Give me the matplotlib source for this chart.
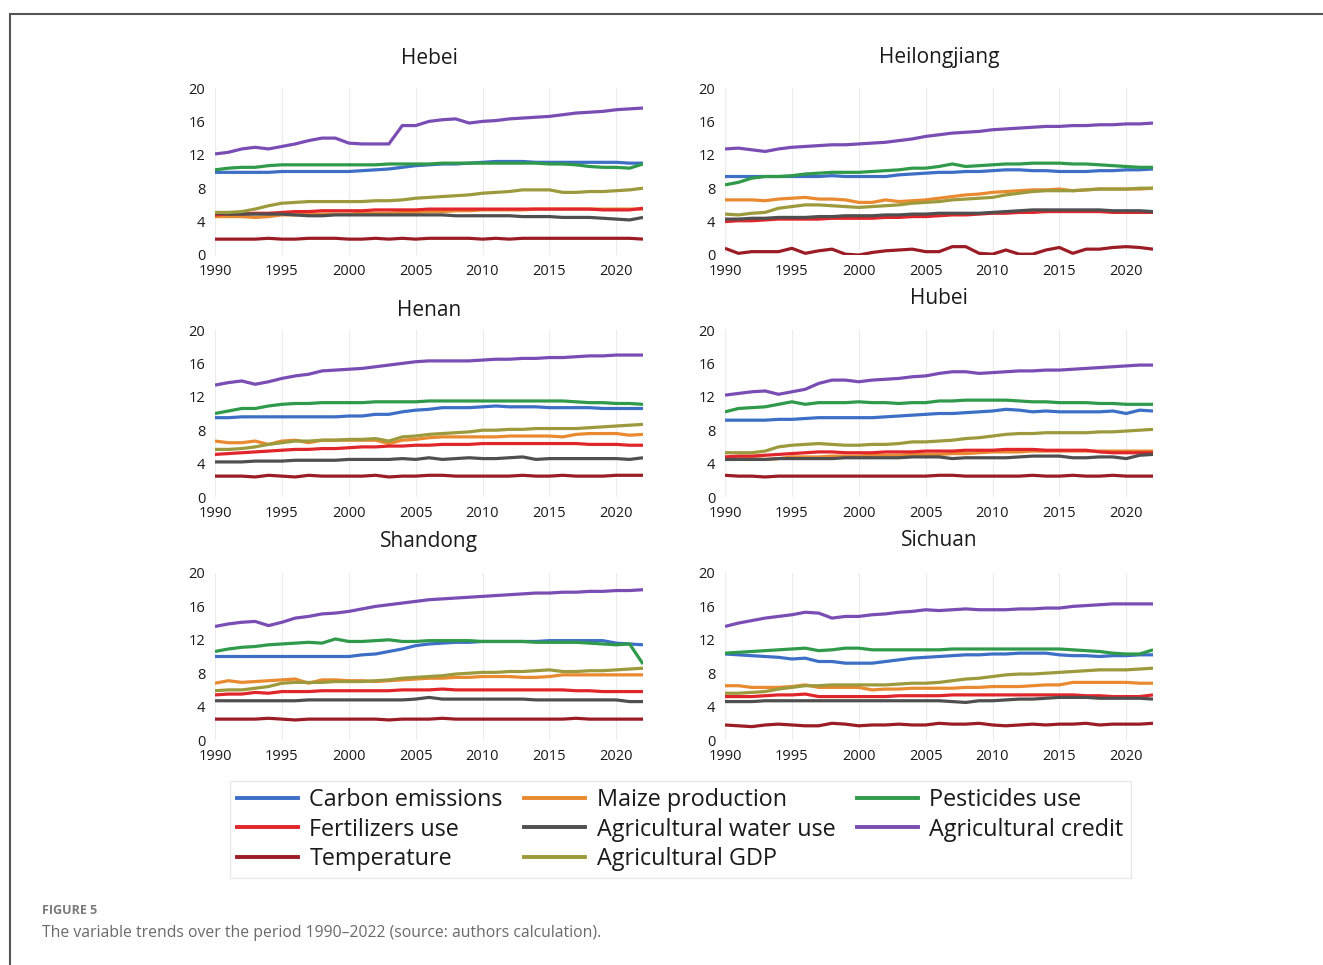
import matplotlib
matplotlib.use("Agg")
import matplotlib.pyplot as plt
from matplotlib.lines import Line2D

years = list(range(1990, 2023))

series_names = ["Carbon emissions", "Maize production", "Pesticides use",
                "Fertilizers use", "Agricultural water use", "Agricultural credit",
                "Temperature", "Agricultural GDP"]
series_colors = ["#3d6fc6", "#e98a30", "#2f9a4a", "#e0262b",
                 "#4f4f4f", "#7a4db5", "#9b1c25", "#9c9a3c"]

provinces = ["Hebei", "Heilongjiang", "Henan", "Hubei", "Shandong", "Sichuan"]

hebei = {
    "Carbon emissions": [9.9,9.9,9.9,9.9,9.9,10.0,10.0,10.0,10.0,10.0, 10.0,10.1,10.2,10.3,10.5,10.7,10.8,10.9,10.9,11.0, 11.1,11.2,11.2,11.2,11.1,11.1,11.1,11.1,11.1,11.1, 11.1,11.0,11.0],
    "Maize production": [4.6,4.6,4.6,4.5,4.6,4.8,4.8,4.9,4.9,4.9, 4.9,5.0,5.0,5.0,5.1,5.1,5.2,5.2,5.3,5.3, 5.4,5.4,5.4,5.4,5.5,5.5,5.5,5.5,5.5,5.5, 5.5,5.5,5.5],
    "Pesticides use": [10.2,10.4,10.5,10.5,10.7,10.8,10.8,10.8,10.8,10.8, 10.8,10.8,10.8,10.9,10.9,10.9,10.9,11.0,11.0,11.0, 11.0,11.0,11.0,11.0,11.0,10.9,10.9,10.8,10.6,10.5, 10.5,10.4,10.9],
    "Fertilizers use": [4.8,4.9,4.9,5.0,5.0,5.1,5.2,5.2,5.3,5.3, 5.3,5.3,5.4,5.4,5.4,5.4,5.5,5.5,5.5,5.5, 5.5,5.5,5.5,5.5,5.5,5.5,5.5,5.5,5.5,5.4, 5.4,5.4,5.6],
    "Agricultural water use": [5.0,4.9,4.9,4.9,4.9,4.9,4.8,4.7,4.7,4.8, 4.8,4.8,4.8,4.8,4.8,4.8,4.8,4.8,4.7,4.7, 4.7,4.7,4.7,4.6,4.6,4.6,4.5,4.5,4.5,4.4, 4.3,4.2,4.5],
    "Agricultural credit": [12.1,12.3,12.7,12.9,12.7,13.0,13.3,13.7,14.0,14.0, 13.4,13.3,13.3,13.3,15.5,15.5,16.0,16.2,16.3,15.8, 16.0,16.1,16.3,16.4,16.5,16.6,16.8,17.0,17.1,17.2, 17.4,17.5,17.6],
    "Temperature": [1.9,1.9,1.9,1.9,2.0,1.9,1.9,2.0,2.0,2.0, 1.9,1.9,2.0,1.9,2.0,1.9,2.0,2.0,2.0,2.0, 1.9,2.0,1.9,2.0,2.0,2.0,2.0,2.0,2.0,2.0, 2.0,2.0,1.9],
    "Agricultural GDP": [5.1,5.1,5.2,5.5,5.9,6.2,6.3,6.4,6.4,6.4, 6.4,6.4,6.5,6.5,6.6,6.8,6.9,7.0,7.1,7.2, 7.4,7.5,7.6,7.8,7.8,7.8,7.5,7.5,7.6,7.6, 7.7,7.8,8.0],
}

heilongjiang = {
    "Carbon emissions": [9.4,9.4,9.4,9.4,9.4,9.4,9.4,9.4,9.5,9.4, 9.4,9.4,9.4,9.6,9.7,9.8,9.9,9.9,10.0,10.0, 10.1,10.2,10.2,10.1,10.1,10.0,10.0,10.0,10.1,10.1, 10.2,10.2,10.3],
    "Maize production": [6.6,6.6,6.6,6.5,6.7,6.8,6.9,6.7,6.7,6.6, 6.3,6.3,6.6,6.4,6.5,6.6,6.8,7.0,7.2,7.3, 7.5,7.6,7.7,7.8,7.8,7.9,7.7,7.8,7.9,7.9, 7.9,7.9,8.0],
    "Pesticides use": [8.4,8.7,9.2,9.4,9.4,9.5,9.7,9.8,9.9,9.9, 9.9,10.0,10.1,10.2,10.4,10.4,10.6,10.9,10.6,10.7, 10.8,10.9,10.9,11.0,11.0,11.0,10.9,10.9,10.8,10.7, 10.6,10.5,10.5],
    "Fertilizers use": [4.0,4.1,4.1,4.2,4.3,4.3,4.3,4.3,4.4,4.4, 4.4,4.4,4.5,4.5,4.6,4.6,4.7,4.8,4.8,4.9, 5.0,5.0,5.1,5.1,5.2,5.2,5.2,5.2,5.2,5.1, 5.1,5.1,5.1],
    "Agricultural water use": [4.3,4.3,4.4,4.4,4.5,4.5,4.5,4.6,4.6,4.7, 4.7,4.7,4.8,4.8,4.9,4.9,5.0,5.0,5.0,5.0, 5.1,5.2,5.3,5.4,5.4,5.4,5.4,5.4,5.4,5.3, 5.3,5.3,5.2],
    "Agricultural credit": [12.7,12.8,12.6,12.4,12.7,12.9,13.0,13.1,13.2,13.2, 13.3,13.4,13.5,13.7,13.9,14.2,14.4,14.6,14.7,14.8, 15.0,15.1,15.2,15.3,15.4,15.4,15.5,15.5,15.6,15.6, 15.7,15.7,15.8],
    "Temperature": [0.8,0.2,0.4,0.4,0.4,0.8,0.2,0.5,0.7,0.1, 0.0,0.3,0.5,0.6,0.7,0.4,0.4,1.0,1.0,0.2, 0.1,0.6,0.1,0.1,0.6,0.9,0.2,0.7,0.7,0.9, 1.0,0.9,0.7],
    "Agricultural GDP": [4.9,4.8,5.0,5.1,5.6,5.8,6.0,6.0,5.9,5.8, 5.7,5.8,5.9,6.0,6.2,6.3,6.4,6.6,6.7,6.8, 6.9,7.2,7.4,7.6,7.7,7.7,7.7,7.8,7.9,7.9, 7.9,8.0,8.0],
}

henan = {
    "Carbon emissions": [9.5,9.5,9.6,9.6,9.6,9.6,9.6,9.6,9.6,9.6, 9.7,9.7,9.9,9.9,10.2,10.4,10.5,10.7,10.7,10.7, 10.8,10.9,10.8,10.8,10.8,10.7,10.7,10.7,10.7,10.6, 10.6,10.6,10.6],
    "Maize production": [6.7,6.5,6.5,6.7,6.3,6.7,6.8,6.5,6.8,6.8, 6.8,6.8,6.8,6.4,6.8,6.9,7.1,7.2,7.2,7.2, 7.2,7.2,7.3,7.3,7.3,7.3,7.2,7.5,7.6,7.6, 7.6,7.4,7.5],
    "Pesticides use": [10.0,10.3,10.6,10.6,10.9,11.1,11.2,11.2,11.3,11.3, 11.3,11.3,11.4,11.4,11.4,11.4,11.5,11.5,11.5,11.5, 11.5,11.5,11.5,11.5,11.5,11.5,11.5,11.4,11.3,11.3, 11.2,11.2,11.1],
    "Fertilizers use": [5.1,5.2,5.3,5.4,5.5,5.6,5.7,5.7,5.8,5.8, 5.9,6.0,6.0,6.1,6.1,6.2,6.2,6.3,6.3,6.3, 6.4,6.4,6.4,6.4,6.4,6.4,6.4,6.4,6.3,6.3, 6.3,6.2,6.2],
    "Agricultural water use": [4.2,4.2,4.2,4.3,4.3,4.3,4.4,4.4,4.4,4.4, 4.5,4.5,4.5,4.5,4.6,4.5,4.7,4.5,4.6,4.7, 4.6,4.6,4.7,4.8,4.5,4.6,4.6,4.6,4.6,4.6, 4.6,4.5,4.7],
    "Agricultural credit": [13.4,13.7,13.9,13.5,13.8,14.2,14.5,14.7,15.1,15.2, 15.3,15.4,15.6,15.8,16.0,16.2,16.3,16.3,16.3,16.3, 16.4,16.5,16.5,16.6,16.6,16.7,16.7,16.8,16.9,16.9, 17.0,17.0,17.0],
    "Temperature": [2.5,2.5,2.5,2.4,2.6,2.5,2.4,2.6,2.5,2.5, 2.5,2.5,2.6,2.4,2.5,2.5,2.6,2.6,2.5,2.5, 2.5,2.5,2.5,2.6,2.5,2.5,2.6,2.5,2.5,2.5, 2.6,2.6,2.6],
    "Agricultural GDP": [5.7,5.7,5.8,6.0,6.3,6.5,6.7,6.7,6.8,6.8, 6.9,6.9,7.0,6.7,7.2,7.3,7.5,7.6,7.7,7.8, 8.0,8.0,8.1,8.1,8.2,8.2,8.2,8.2,8.3,8.4, 8.5,8.6,8.7],
}

hubei = {
    "Carbon emissions": [9.2,9.2,9.2,9.2,9.3,9.3,9.4,9.5,9.5,9.5, 9.5,9.5,9.6,9.7,9.8,9.9,10.0,10.0,10.1,10.2, 10.3,10.5,10.4,10.2,10.3,10.2,10.2,10.2,10.2,10.3, 10.0,10.4,10.3],
    "Maize production": [4.6,4.6,4.6,4.5,4.6,4.8,4.8,4.8,4.9,4.9, 4.9,5.0,5.0,5.0,5.1,5.1,5.1,5.2,5.2,5.3, 5.4,5.4,5.4,5.5,5.5,5.5,5.5,5.5,5.5,5.5, 5.5,5.5,5.5],
    "Pesticides use": [10.2,10.6,10.7,10.8,11.1,11.4,11.1,11.3,11.3,11.3, 11.4,11.3,11.3,11.2,11.3,11.3,11.5,11.5,11.6,11.6, 11.6,11.6,11.5,11.4,11.4,11.3,11.3,11.3,11.2,11.2, 11.1,11.1,11.1],
    "Fertilizers use": [4.8,4.9,4.9,5.0,5.1,5.2,5.3,5.4,5.4,5.3, 5.3,5.3,5.4,5.4,5.4,5.5,5.5,5.5,5.6,5.6, 5.6,5.7,5.7,5.7,5.6,5.6,5.6,5.6,5.4,5.3, 5.3,5.3,5.3],
    "Agricultural water use": [4.5,4.5,4.5,4.5,4.6,4.6,4.6,4.6,4.6,4.7, 4.7,4.7,4.7,4.7,4.8,4.8,4.8,4.6,4.7,4.7, 4.7,4.7,4.8,4.9,4.9,4.9,4.7,4.7,4.8,4.8, 4.6,5.0,5.1],
    "Agricultural credit": [12.2,12.4,12.6,12.7,12.3,12.6,12.9,13.6,14.0,14.0, 13.8,14.0,14.1,14.2,14.4,14.5,14.8,15.0,15.0,14.8, 14.9,15.0,15.1,15.1,15.2,15.2,15.3,15.4,15.5,15.6, 15.7,15.8,15.8],
    "Temperature": [2.6,2.5,2.5,2.4,2.5,2.5,2.5,2.5,2.5,2.5, 2.5,2.5,2.5,2.5,2.5,2.5,2.6,2.6,2.5,2.5, 2.5,2.5,2.5,2.6,2.5,2.5,2.6,2.5,2.5,2.6, 2.5,2.5,2.5],
    "Agricultural GDP": [5.3,5.3,5.3,5.5,6.0,6.2,6.3,6.4,6.3,6.2, 6.2,6.3,6.3,6.4,6.6,6.6,6.7,6.8,7.0,7.1, 7.3,7.5,7.6,7.6,7.7,7.7,7.7,7.7,7.8,7.8, 7.9,8.0,8.1],
}

shandong = {
    "Carbon emissions": [10.0,10.0,10.0,10.0,10.0,10.0,10.0,10.0,10.0,10.0, 10.0,10.2,10.3,10.6,10.9,11.3,11.5,11.6,11.7,11.7, 11.8,11.8,11.8,11.8,11.8,11.9,11.9,11.9,11.9,11.9, 11.6,11.5,11.4],
    "Maize production": [6.8,7.1,6.9,7.0,7.1,7.2,7.3,6.8,7.2,7.2, 7.1,7.1,7.0,7.1,7.2,7.3,7.4,7.4,7.5,7.5, 7.6,7.6,7.6,7.5,7.5,7.6,7.8,7.8,7.8,7.8, 7.8,7.8,7.8],
    "Pesticides use": [10.6,10.9,11.1,11.2,11.4,11.5,11.6,11.7,11.6,12.1, 11.8,11.8,11.9,12.0,11.8,11.8,11.9,11.9,11.9,11.9, 11.8,11.8,11.8,11.8,11.7,11.7,11.7,11.7,11.6,11.5, 11.4,11.5,9.1],
    "Fertilizers use": [5.4,5.5,5.5,5.7,5.6,5.8,5.8,5.8,5.9,5.9, 5.9,5.9,5.9,5.9,6.0,6.0,6.0,6.1,6.0,6.0, 6.0,6.0,6.0,6.0,6.0,6.0,6.0,5.9,5.9,5.8, 5.8,5.8,5.8],
    "Agricultural water use": [4.7,4.7,4.7,4.7,4.7,4.7,4.7,4.8,4.8,4.8, 4.8,4.8,4.8,4.8,4.8,4.9,5.1,4.9,4.9,4.9, 4.9,4.9,4.9,4.9,4.8,4.8,4.8,4.8,4.8,4.8, 4.8,4.6,4.6],
    "Agricultural credit": [13.6,13.9,14.1,14.2,13.7,14.1,14.6,14.8,15.1,15.2, 15.4,15.7,16.0,16.2,16.4,16.6,16.8,16.9,17.0,17.1, 17.2,17.3,17.4,17.5,17.6,17.6,17.7,17.7,17.8,17.8, 17.9,17.9,18.0],
    "Temperature": [2.5,2.5,2.5,2.5,2.6,2.5,2.4,2.5,2.5,2.5, 2.5,2.5,2.5,2.4,2.5,2.5,2.5,2.6,2.5,2.5, 2.5,2.5,2.5,2.5,2.5,2.5,2.5,2.6,2.5,2.5, 2.5,2.5,2.5],
    "Agricultural GDP": [5.9,6.0,6.0,6.2,6.4,6.8,6.9,6.9,6.9,7.0, 7.0,7.0,7.1,7.2,7.4,7.5,7.6,7.7,7.9,8.0, 8.1,8.1,8.2,8.2,8.3,8.4,8.2,8.2,8.3,8.3, 8.4,8.5,8.6],
}

sichuan = {
    "Carbon emissions": [10.3,10.2,10.1,10.0,9.9,9.7,9.8,9.4,9.4,9.2, 9.2,9.2,9.4,9.6,9.8,9.9,10.0,10.1,10.2,10.2, 10.3,10.3,10.4,10.4,10.4,10.2,10.1,10.1,10.0,10.1, 10.1,10.2,10.2],
    "Maize production": [6.5,6.5,6.3,6.3,6.3,6.4,6.6,6.3,6.3,6.3, 6.3,6.0,6.1,6.1,6.2,6.2,6.2,6.2,6.3,6.3, 6.4,6.4,6.4,6.5,6.6,6.6,6.9,6.9,6.9,6.9, 6.9,6.8,6.8],
    "Pesticides use": [10.4,10.5,10.6,10.7,10.8,10.9,11.0,10.7,10.8,11.0, 11.0,10.8,10.8,10.8,10.8,10.8,10.8,10.9,10.9,10.9, 10.9,10.9,10.9,10.9,10.9,10.9,10.8,10.7,10.6,10.4, 10.3,10.3,10.8],
    "Fertilizers use": [5.2,5.2,5.2,5.3,5.4,5.4,5.5,5.2,5.2,5.2, 5.2,5.2,5.2,5.3,5.3,5.3,5.3,5.4,5.4,5.4, 5.4,5.4,5.4,5.4,5.4,5.4,5.4,5.3,5.3,5.2, 5.2,5.2,5.4],
    "Agricultural water use": [4.6,4.6,4.6,4.7,4.7,4.7,4.7,4.7,4.7,4.7, 4.7,4.7,4.7,4.7,4.7,4.7,4.7,4.6,4.5,4.7, 4.7,4.8,4.9,4.9,5.0,5.1,5.1,5.1,5.0,5.0, 5.0,5.0,4.9],
    "Agricultural credit": [13.6,14.0,14.3,14.6,14.8,15.0,15.3,15.2,14.6,14.8, 14.8,15.0,15.1,15.3,15.4,15.6,15.5,15.6,15.7,15.6, 15.6,15.6,15.7,15.7,15.8,15.8,16.0,16.1,16.2,16.3, 16.3,16.3,16.3],
    "Temperature": [1.8,1.7,1.6,1.8,1.9,1.8,1.7,1.7,2.0,1.9, 1.7,1.8,1.8,1.9,1.8,1.8,2.0,1.9,1.9,2.0, 1.8,1.7,1.8,1.9,1.8,1.9,1.9,2.0,1.8,1.9, 1.9,1.9,2.0],
    "Agricultural GDP": [5.6,5.6,5.7,5.8,6.1,6.3,6.5,6.5,6.6,6.6, 6.6,6.6,6.6,6.7,6.8,6.8,6.9,7.1,7.3,7.4, 7.6,7.8,7.9,7.9,8.0,8.1,8.2,8.3,8.4,8.4, 8.4,8.5,8.6],
}

province_data = [hebei, heilongjiang, henan, hubei, shandong, sichuan]

yticks = [0, 4, 8, 12, 16, 20]
xticks = [1990, 1995, 2000, 2005, 2010, 2015, 2020]

W, H = 1323, 965
plt.rcParams["font.family"] = ["Open Sans", "DejaVu Sans"]
fig = plt.figure(figsize=(W / 100, H / 100), dpi=100)

# panel pixel geometry: (left, top) of plotting area
lefts = [215, 725]
tops = [88, 330, 573]
title_y = [[58, 58], [310, 299], [541, 541]]
pw, ph = 428, 167

for i, (name, data) in enumerate(zip(provinces, province_data)):
    r, c = divmod(i, 2)
    l, t = lefts[c], tops[r]
    ax = fig.add_axes([l / W, 1 - (t + ph) / H, pw / W, ph / H])
    for s, col in zip(series_names, series_colors):
        ax.plot(years, data[s], color=col, lw=2.3, solid_capstyle="butt")
    ax.set_xlim(1990, 2022)
    ax.set_ylim(0, 20)
    ax.set_xticks(xticks)
    ax.set_yticks(yticks)
    ax.tick_params(length=0, labelsize=10.5, colors="#1a1a1a")
    ax.tick_params(axis="x", pad=6.5)
    ax.tick_params(axis="y", pad=7)
    for sp in ax.spines.values():
        sp.set_visible(False)
    ax.grid(axis="x", color="#ececec", lw=0.8)
    ax.set_axisbelow(True)
    fig.text((l + pw / 2) / W, 1 - title_y[r][c] / H, name, ha="center",
             va="center", fontsize=15, color="#1a1a1a")

handles = [Line2D([], [], color=col, lw=2.8) for col in series_colors]
order = [0, 3, 6, 1, 4, 7, 2, 5]
leg = fig.legend([handles[k] for k in order], [series_names[k] for k in order],
                 ncol=3, loc="upper left", bbox_to_anchor=(230 / W, 1 - 781 / H),
                 fontsize=16.8, frameon=True, fancybox=False,
                 handlelength=2.6, handletextpad=0.5, columnspacing=0.93,
                 labelspacing=0.24, borderpad=0.3, borderaxespad=0)
leg.get_frame().set_edgecolor("#e4e4e4")
leg.get_frame().set_linewidth(1.0)
for tx in leg.get_texts():
    tx.set_color("#1a1a1a")

fig.text(42 / W, 1 - 910 / H, "FIGURE 5", fontsize=9, color="#7a7a7a",
         fontweight="bold", ha="left", va="center")
fig.text(42 / W, 1 - 933 / H,
         "The variable trends over the period 1990\u20132022 (source: authors calculation).",
         fontsize=11.3, color="#6a6a6a", ha="left", va="center")

# outer frame (top and left edges)
fig.add_artist(Line2D([10 / W, 1], [1 - 14 / H, 1 - 14 / H], color="#555555", lw=1.5,
                      transform=fig.transFigure))
fig.add_artist(Line2D([10 / W, 10 / W], [0, 1 - 14 / H], color="#555555", lw=1.5,
                      transform=fig.transFigure))

fig.savefig("out.png", dpi=100, facecolor="white")
